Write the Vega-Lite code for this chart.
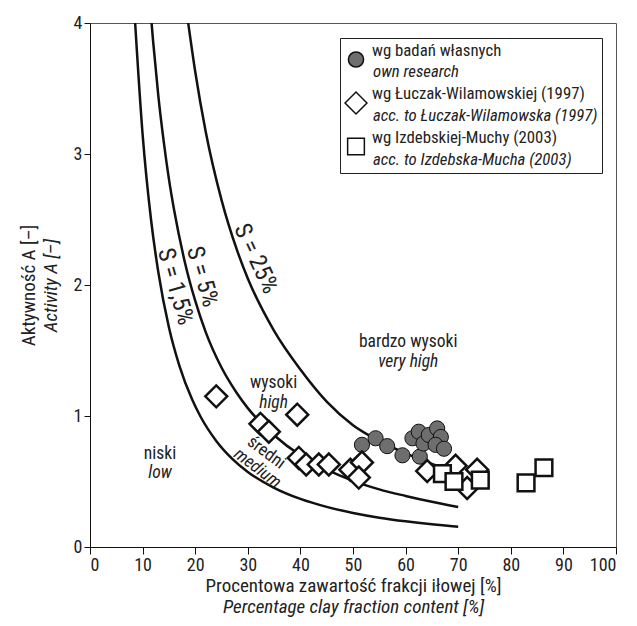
{
  "$schema": "https://vega.github.io/schema/vega-lite/v6.json",
  "width": 526,
  "height": 524,
  "autosize": {"type": "none"},
  "padding": {"left": 90, "top": 23, "right": 21, "bottom": 79},
  "background": "white",
  "config": {
    "font": "Liberation Sans Narrow, Roboto Condensed, DejaVu Sans Condensed, sans-serif",
    "view": {"stroke": "#555", "strokeWidth": 1},
    "axis": {"grid": false, "domainColor": "#111", "tickColor": "#111", "labelColor": "#222", "titleColor": "#222", "labelFontSize": 18, "titleFontSize": 19, "titleFontWeight": "normal", "tickSize": 6, "labelPadding": 2},
    "style": {"guide-label": {"lineHeight": 18}},
    "text": {"color": "#222"}
  },
  "datasets": {
    "curves": [
      {"S": "1,5%", "C": 8.4, "A": 4.12}, {"S": "1,5%", "C": 10, "A": 3.15}, {"S": "1,5%", "C": 11.6, "A": 2.5}, {"S": "1,5%", "C": 13, "A": 2.095}, {"S": "1,5%", "C": 15, "A": 1.678}, {"S": "1,5%", "C": 17, "A": 1.383}, {"S": "1,5%", "C": 19.4, "A": 1.127}, {"S": "1,5%", "C": 21, "A": 0.996}, {"S": "1,5%", "C": 24, "A": 0.81}, {"S": "1,5%", "C": 27, "A": 0.675}, {"S": "1,5%", "C": 30, "A": 0.573}, {"S": "1,5%", "C": 35, "A": 0.452}, {"S": "1,5%", "C": 40, "A": 0.367}, {"S": "1,5%", "C": 45, "A": 0.306}, {"S": "1,5%", "C": 50, "A": 0.26}, {"S": "1,5%", "C": 55, "A": 0.224}, {"S": "1,5%", "C": 60, "A": 0.196}, {"S": "1,5%", "C": 65, "A": 0.173}, {"S": "1,5%", "C": 70, "A": 0.154},
      {"S": "5%", "C": 11.5, "A": 4.1}, {"S": "5%", "C": 12, "A": 3.86}, {"S": "5%", "C": 13, "A": 3.44}, {"S": "5%", "C": 14, "A": 3.1}, {"S": "5%", "C": 15, "A": 2.81}, {"S": "5%", "C": 16, "A": 2.57}, {"S": "5%", "C": 18, "A": 2.18}, {"S": "5%", "C": 20, "A": 1.88}, {"S": "5%", "C": 22, "A": 1.64}, {"S": "5%", "C": 25, "A": 1.37}, {"S": "5%", "C": 28, "A": 1.17}, {"S": "5%", "C": 30, "A": 1.06}, {"S": "5%", "C": 35, "A": 0.853}, {"S": "5%", "C": 40, "A": 0.7}, {"S": "5%", "C": 45, "A": 0.59}, {"S": "5%", "C": 50, "A": 0.505}, {"S": "5%", "C": 55, "A": 0.44}, {"S": "5%", "C": 60, "A": 0.39}, {"S": "5%", "C": 65, "A": 0.345}, {"S": "5%", "C": 70, "A": 0.305},
      {"S": "25%", "C": 18.5, "A": 4.05}, {"S": "25%", "C": 20, "A": 3.63}, {"S": "25%", "C": 22, "A": 3.17}, {"S": "25%", "C": 25, "A": 2.65}, {"S": "25%", "C": 28, "A": 2.26}, {"S": "25%", "C": 30, "A": 2.05}, {"S": "25%", "C": 35, "A": 1.65}, {"S": "25%", "C": 40, "A": 1.355}, {"S": "25%", "C": 45, "A": 1.11}, {"S": "25%", "C": 50, "A": 0.93}, {"S": "25%", "C": 55, "A": 0.81}, {"S": "25%", "C": 60, "A": 0.715}, {"S": "25%", "C": 65, "A": 0.635}, {"S": "25%", "C": 70, "A": 0.57}
    ],
    "points": [
      {"zrodlo": "wg badań własnych", "source": "own research", "C": 51.7, "A": 0.78},
      {"zrodlo": "wg badań własnych", "source": "own research", "C": 54.3, "A": 0.83},
      {"zrodlo": "wg badań własnych", "source": "own research", "C": 56.5, "A": 0.77},
      {"zrodlo": "wg badań własnych", "source": "own research", "C": 59.4, "A": 0.7},
      {"zrodlo": "wg badań własnych", "source": "own research", "C": 62.7, "A": 0.69},
      {"zrodlo": "wg badań własnych", "source": "own research", "C": 61.3, "A": 0.83},
      {"zrodlo": "wg badań własnych", "source": "own research", "C": 62.5, "A": 0.88},
      {"zrodlo": "wg badań własnych", "source": "own research", "C": 63.4, "A": 0.79},
      {"zrodlo": "wg badań własnych", "source": "own research", "C": 64.4, "A": 0.855},
      {"zrodlo": "wg badań własnych", "source": "own research", "C": 66.0, "A": 0.905},
      {"zrodlo": "wg badań własnych", "source": "own research", "C": 66.7, "A": 0.84},
      {"zrodlo": "wg badań własnych", "source": "own research", "C": 65.7, "A": 0.78},
      {"zrodlo": "wg badań własnych", "source": "own research", "C": 67.3, "A": 0.75},
      {"zrodlo": "wg Łuczak-Wilamowskiej (1997)", "source": "acc. to Łuczak-Wilamowska (1997)", "C": 24.0, "A": 1.15},
      {"zrodlo": "wg Łuczak-Wilamowskiej (1997)", "source": "acc. to Łuczak-Wilamowska (1997)", "C": 32.4, "A": 0.94},
      {"zrodlo": "wg Łuczak-Wilamowskiej (1997)", "source": "acc. to Łuczak-Wilamowska (1997)", "C": 34.0, "A": 0.88},
      {"zrodlo": "wg Łuczak-Wilamowskiej (1997)", "source": "acc. to Łuczak-Wilamowska (1997)", "C": 39.4, "A": 1.01},
      {"zrodlo": "wg Łuczak-Wilamowskiej (1997)", "source": "acc. to Łuczak-Wilamowska (1997)", "C": 39.7, "A": 0.68},
      {"zrodlo": "wg Łuczak-Wilamowskiej (1997)", "source": "acc. to Łuczak-Wilamowska (1997)", "C": 41.1, "A": 0.63},
      {"zrodlo": "wg Łuczak-Wilamowskiej (1997)", "source": "acc. to Łuczak-Wilamowska (1997)", "C": 43.5, "A": 0.63},
      {"zrodlo": "wg Łuczak-Wilamowskiej (1997)", "source": "acc. to Łuczak-Wilamowska (1997)", "C": 45.4, "A": 0.63},
      {"zrodlo": "wg Łuczak-Wilamowskiej (1997)", "source": "acc. to Łuczak-Wilamowska (1997)", "C": 49.5, "A": 0.59},
      {"zrodlo": "wg Łuczak-Wilamowskiej (1997)", "source": "acc. to Łuczak-Wilamowska (1997)", "C": 51.7, "A": 0.645},
      {"zrodlo": "wg Łuczak-Wilamowskiej (1997)", "source": "acc. to Łuczak-Wilamowska (1997)", "C": 51.1, "A": 0.53},
      {"zrodlo": "wg Łuczak-Wilamowskiej (1997)", "source": "acc. to Łuczak-Wilamowska (1997)", "C": 64.1, "A": 0.58},
      {"zrodlo": "wg Łuczak-Wilamowskiej (1997)", "source": "acc. to Łuczak-Wilamowska (1997)", "C": 69.5, "A": 0.62},
      {"zrodlo": "wg Łuczak-Wilamowskiej (1997)", "source": "acc. to Łuczak-Wilamowska (1997)", "C": 71.7, "A": 0.45},
      {"zrodlo": "wg Łuczak-Wilamowskiej (1997)", "source": "acc. to Łuczak-Wilamowska (1997)", "C": 73.6, "A": 0.59},
      {"zrodlo": "wg Izdebskiej-Muchy (2003)", "source": "acc. to Izdebska-Mucha (2003)", "C": 67.0, "A": 0.56},
      {"zrodlo": "wg Izdebskiej-Muchy (2003)", "source": "acc. to Izdebska-Mucha (2003)", "C": 69.2, "A": 0.5},
      {"zrodlo": "wg Izdebskiej-Muchy (2003)", "source": "acc. to Izdebska-Mucha (2003)", "C": 74.2, "A": 0.51},
      {"zrodlo": "wg Izdebskiej-Muchy (2003)", "source": "acc. to Izdebska-Mucha (2003)", "C": 82.9, "A": 0.49},
      {"zrodlo": "wg Izdebskiej-Muchy (2003)", "source": "acc. to Izdebska-Mucha (2003)", "C": 86.3, "A": 0.605}
    ],
    "labels": [
      {"grp": "pl", "C": 60.5, "A": 1.565, "t": "bardzo wysoki"},
      {"grp": "pl", "C": 34.9, "A": 1.254, "t": "wysoki"},
      {"grp": "pl", "C": 13.3, "A": 0.71, "t": "niski"},
      {"grp": "en", "C": 60.5, "A": 1.41, "t": "very high"},
      {"grp": "en", "C": 34.9, "A": 1.10, "t": "high"},
      {"grp": "en", "C": 13.3, "A": 0.565, "t": "low"},
      {"grp": "pl_rot", "C": 33.5, "A": 0.72, "t": "średni"},
      {"grp": "en_rot", "C": 31.8, "A": 0.60, "t": "medium"},
      {"grp": "s25", "C": 31.5, "A": 2.2, "t": "S = 25%"},
      {"grp": "s5", "C": 21.3, "A": 2.063, "t": "S = 5%"},
      {"grp": "s15", "C": 16.2, "A": 1.987, "t": "S = 1,5%"}
    ]
  },
  "layer": [
    {
      "layer": [
        {
          "data": {"name": "curves"},
          "mark": {"type": "line", "interpolate": "monotone", "clip": true, "strokeWidth": 2.5, "color": "#111"},
          "encoding": {
            "x": {"field": "C", "type": "quantitative", "scale": {"domain": [0, 100], "nice": false}, "axis": {"values": [0, 10, 20, 30, 40, 50, 60, 70, 80, 90, 100], "format": "d", "title": "Procentowa zawartość frakcji iłowej [%]", "titlePadding": 2, "tickSize": 7}},
            "y": {"field": "A", "type": "quantitative", "scale": {"domain": [0, 4], "nice": false}, "axis": {"values": [0, 1, 2, 3, 4], "format": "d", "title": "Aktywność A [–]", "titlePadding": 35}},
            "detail": {"field": "S", "type": "nominal"}
          }
        },
        {
          "data": {"name": "points"},
          "mark": {"type": "point", "filled": true, "stroke": "#111", "opacity": 1, "fillOpacity": 1, "strokeOpacity": 1},
          "encoding": {
            "x": {"field": "C", "type": "quantitative"},
            "y": {"field": "A", "type": "quantitative"},
            "shape": {"field": "zrodlo", "type": "nominal", "scale": {"domain": ["wg badań własnych", "wg Łuczak-Wilamowskiej (1997)", "wg Izdebskiej-Muchy (2003)"], "range": ["circle", "diamond", "square"]},
              "legend": {"orient": "none", "legendX": 250, "legendY": 15, "direction": "vertical", "title": " ", "titleFontSize": 1, "titlePadding": 8, "labelFontSize": 16.8, "labelOffset": 4, "labelBaseline": "line-bottom", "rowPadding": 8, "padding": 4, "labelLimit": 400, "labelColor": "#222", "symbolStrokeColor": "#111", "labelExpr": "[datum.label, '']",
                "encode": {"symbols": {"update": {"strokeWidth": {"signal": "datum.value === 'wg badań własnych' ? 1 : 2.5"}}}}}},
            "fill": {"field": "zrodlo", "type": "nominal", "scale": {"domain": ["wg badań własnych", "wg Łuczak-Wilamowskiej (1997)", "wg Izdebskiej-Muchy (2003)"], "range": ["#6e6e6e", "white", "white"]}},
            "size": {"field": "zrodlo", "type": "nominal", "scale": {"type": "ordinal", "domain": ["wg badań własnych", "wg Łuczak-Wilamowskiej (1997)", "wg Izdebskiej-Muchy (2003)"], "range": [230, 480, 280]}},
            "strokeWidth": {"field": "source", "type": "nominal", "scale": {"type": "ordinal", "domain": ["own research", "acc. to Łuczak-Wilamowska (1997)", "acc. to Izdebska-Mucha (2003)"], "range": [1, 2.5, 2.5]},
              "legend": {"orient": "none", "legendX": 250, "legendY": 15, "direction": "vertical", "title": " ", "titleFontSize": 1, "titlePadding": 8, "labelFontSize": 16.8, "labelOffset": 4, "labelBaseline": "line-bottom", "rowPadding": 8, "padding": 4, "labelLimit": 400, "labelColor": "#222", "labelFontStyle": "italic", "symbolType": "diamond", "symbolSize": 480, "symbolOpacity": 0, "strokeColor": "#222", "labelExpr": "['', datum.label]"}}
          }
        },
        {
          "data": {"name": "labels"},
          "transform": [{"filter": "datum.grp === 'pl'"}],
          "mark": {"type": "text", "fontSize": 17.5, "align": "center", "baseline": "middle"},
          "encoding": {"x": {"field": "C", "type": "quantitative"}, "y": {"field": "A", "type": "quantitative"}, "text": {"field": "t"}}
        },
        {
          "data": {"name": "labels"},
          "transform": [{"filter": "datum.grp === 'en'"}],
          "mark": {"type": "text", "fontSize": 17.5, "fontStyle": "italic", "align": "center", "baseline": "middle"},
          "encoding": {"x": {"field": "C", "type": "quantitative"}, "y": {"field": "A", "type": "quantitative"}, "text": {"field": "t"}}
        },
        {
          "data": {"name": "labels"},
          "transform": [{"filter": "datum.grp === 'pl_rot'"}],
          "mark": {"type": "text", "fontSize": 17.5, "angle": 37, "align": "center", "baseline": "middle"},
          "encoding": {"x": {"field": "C", "type": "quantitative"}, "y": {"field": "A", "type": "quantitative"}, "text": {"field": "t"}}
        },
        {
          "data": {"name": "labels"},
          "transform": [{"filter": "datum.grp === 'en_rot'"}],
          "mark": {"type": "text", "fontSize": 17.5, "fontStyle": "italic", "angle": 37, "align": "center", "baseline": "middle"},
          "encoding": {"x": {"field": "C", "type": "quantitative"}, "y": {"field": "A", "type": "quantitative"}, "text": {"field": "t"}}
        },
        {
          "data": {"name": "labels"},
          "transform": [{"filter": "datum.grp === 's25'"}],
          "mark": {"type": "text", "fontSize": 24, "angle": 65, "align": "center", "baseline": "middle"},
          "encoding": {"x": {"field": "C", "type": "quantitative"}, "y": {"field": "A", "type": "quantitative"}, "text": {"field": "t"}}
        },
        {
          "data": {"name": "labels"},
          "transform": [{"filter": "datum.grp === 's5' || datum.grp === 's15'"}],
          "mark": {"type": "text", "fontSize": 24, "angle": 74, "align": "center", "baseline": "middle"},
          "encoding": {"x": {"field": "C", "type": "quantitative"}, "y": {"field": "A", "type": "quantitative"}, "text": {"field": "t"}}
        }
      ]
    },
    {
      "data": {"name": "curves"},
      "mark": {"type": "point", "opacity": 0},
      "encoding": {
        "x": {"field": "C", "type": "quantitative", "scale": {"domain": [0, 100], "nice": false}, "axis": {"orient": "bottom", "labels": false, "ticks": false, "domain": false, "title": "Percentage clay fraction content [%]", "titleFontStyle": "italic", "titlePadding": 50}},
        "y": {"field": "A", "type": "quantitative", "scale": {"domain": [0, 4], "nice": false}, "axis": {"orient": "left", "labels": false, "ticks": false, "domain": false, "title": "Activity A [–]", "titleFontStyle": "italic", "titlePadding": 30}}
      }
    }
  ],
  "resolve": {"scale": {"x": "independent", "y": "independent"}}
}
